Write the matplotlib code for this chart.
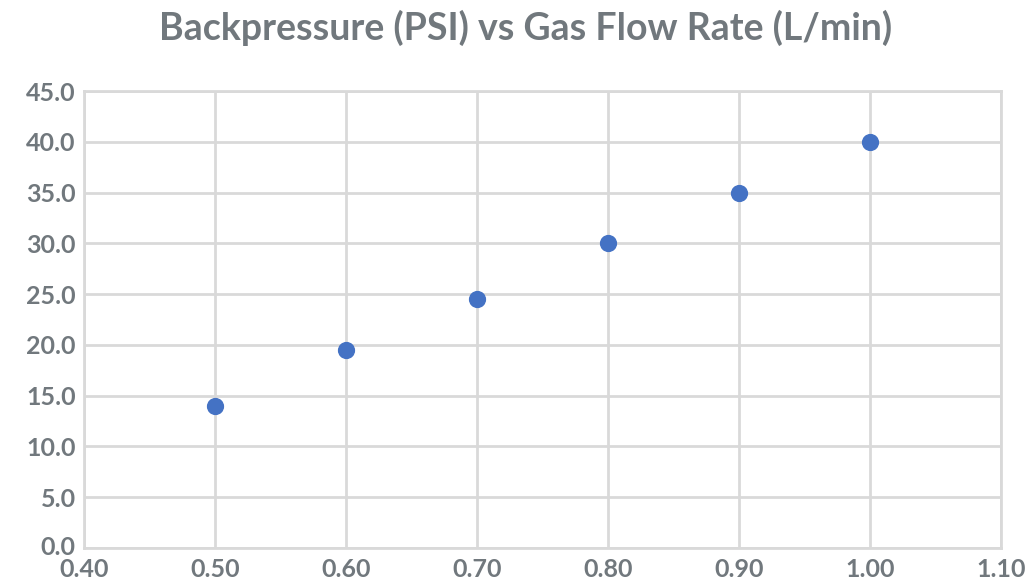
import matplotlib.pyplot as plt
import matplotlib.transforms as mtransforms
from matplotlib.ticker import FormatStrFormatter

# gas flow rate (L/min) vs backpressure (PSI)
flow_rate = [0.50, 0.60, 0.70, 0.80, 0.90, 1.00]
backpressure = [14.0, 19.5, 24.5, 30.0, 35.0, 40.0]

x_ticks = [0.40, 0.50, 0.60, 0.70, 0.80, 0.90, 1.00, 1.10]
y_ticks = [0, 5, 10, 15, 20, 25, 30, 35, 40, 45]

text_gray = '#71787d'
grid_gray = '#d9d9d9'

plt.rcParams['font.family'] = ['Lato', 'DejaVu Sans']

fig = plt.figure(figsize=(10.28, 5.82), dpi=100)
ax = fig.add_axes([0.0817, 0.0584, 0.8923, 0.7852])

ax.scatter(flow_rate, backpressure, s=130, color='#4472c4', zorder=3)

ax.set_xlim(0.40, 1.10)
ax.set_ylim(0, 45)
ax.set_xticks(x_ticks)
ax.set_yticks(y_ticks)
ax.xaxis.set_major_formatter(FormatStrFormatter('%.2f'))
ax.yaxis.set_major_formatter(FormatStrFormatter('%.1f'))
ax.grid(color=grid_gray, linewidth=2)
ax.set_axisbelow(True)
for s in ax.spines.values():
    s.set_color(grid_gray)
    s.set_linewidth(2)
ax.tick_params(length=0, labelsize=18, labelcolor=text_gray)
ax.tick_params(axis='x', pad=7)
ax.tick_params(axis='y', pad=6)
for lbl in ax.get_xticklabels() + ax.get_yticklabels():
    lbl.set_fontweight('bold')
# nudge the 0.0 label up a few px so it clears 0.40 below it
zero_lbl = ax.get_yticklabels()[0]
zero_lbl.set_transform(zero_lbl.get_transform() +
                       mtransforms.ScaledTranslation(0, 3 / 100, fig.dpi_scale_trans))

fig.text(0.511, 0.952, 'Backpressure (PSI) vs Gas Flow Rate (L/min)',
         ha='center', va='center', fontsize=27, fontweight='bold',
         color=text_gray)

fig.savefig('out.png', dpi=100)
